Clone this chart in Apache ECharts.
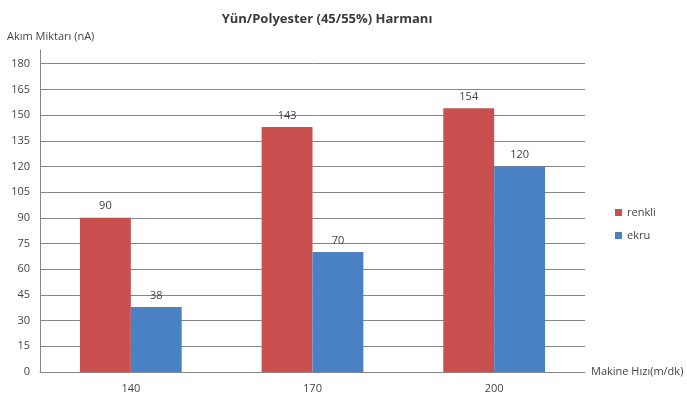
<!DOCTYPE html>
<html><head><meta charset="utf-8">
<script src="https://cdn.jsdelivr.net/npm/echarts@6/dist/echarts.min.js"></script>
<style>html,body{margin:0;padding:0;background:#fff}#c{width:687px;height:394px}</style>
</head><body><div id="c"></div>
<script>
const categories = ['140', '170', '200'];
const renkli = [90, 143, 154];
const ekru = [38, 70, 120];
const seriesNames = ['renkli', 'ekru'];
const titleText = 'Yün/Polyester (45/55%) Harmanı';
const yName = 'Akım Miktarı (nA)';
const xName = 'Makine Hızı(m/dk)';

const font = '"Open Sans", "DejaVu Sans", sans-serif';
const chart = echarts.init(document.getElementById('c'));
chart.setOption({
  animation: false,
  textStyle: { fontFamily: font },
  title: {
    text: titleText, left: 322, top: 8, textAlign: 'center',
    textStyle: { fontSize: 13, fontWeight: 'bold', color: '#3a3a3a', fontFamily: font }
  },
  legend: {
    orient: 'vertical', left: 610, top: 202, itemWidth: 7, itemHeight: 7, itemGap: 12,
    icon: 'rect', textStyle: { fontSize: 11, color: '#444', fontFamily: font },
    data: seriesNames
  },
  grid: { left: 40, right: 102, top: 50, bottom: 15, containLabel: false },
  xAxis: {
    type: 'category', data: categories,
    name: xName, nameLocation: 'end', nameGap: 6,
    nameTextStyle: { fontSize: 11, color: '#444', verticalAlign: 'middle', align: 'left', padding: [0,0,0,0] },
    axisLine: { lineStyle: { color: '#858585', width: 1 } },
    axisTick: { show: false },
    axisLabel: { fontSize: 11, color: '#444', margin: 11 }
  },
  yAxis: {
    type: 'value', min: 0, max: 188, interval: 15,
    name: yName, nameLocation: 'end', nameGap: 8,
    nameTextStyle: { fontSize: 11, color: '#444', align: 'left', padding: [0,0,0,-33] },
    axisLine: { show: true, lineStyle: { color: '#858585', width: 1 } },
    axisTick: { show: false },
    axisLabel: { fontSize: 11, color: '#444', margin: 10, showMaxLabel: false,
      formatter: v => (v % 15 === 0 ? String(v) : '') },
    splitLine: { show: true, showMaxLine: false, lineStyle: { color: '#858585', width: 1 } }
  },
  series: [
    { name: seriesNames[0], type: 'bar', data: renkli, barGap: '0%', barCategoryGap: '44%',
      itemStyle: { color: '#C9504F' },
      label: { show: true, position: 'top', fontSize: 11, color: '#444', distance: 6 } },
    { name: seriesNames[1], type: 'bar', data: ekru, barGap: '0%', barCategoryGap: '44%',
      itemStyle: { color: '#4A80C4' },
      label: { show: true, position: 'top', fontSize: 11, color: '#444', distance: 6 } }
  ]
});
</script></body></html>
